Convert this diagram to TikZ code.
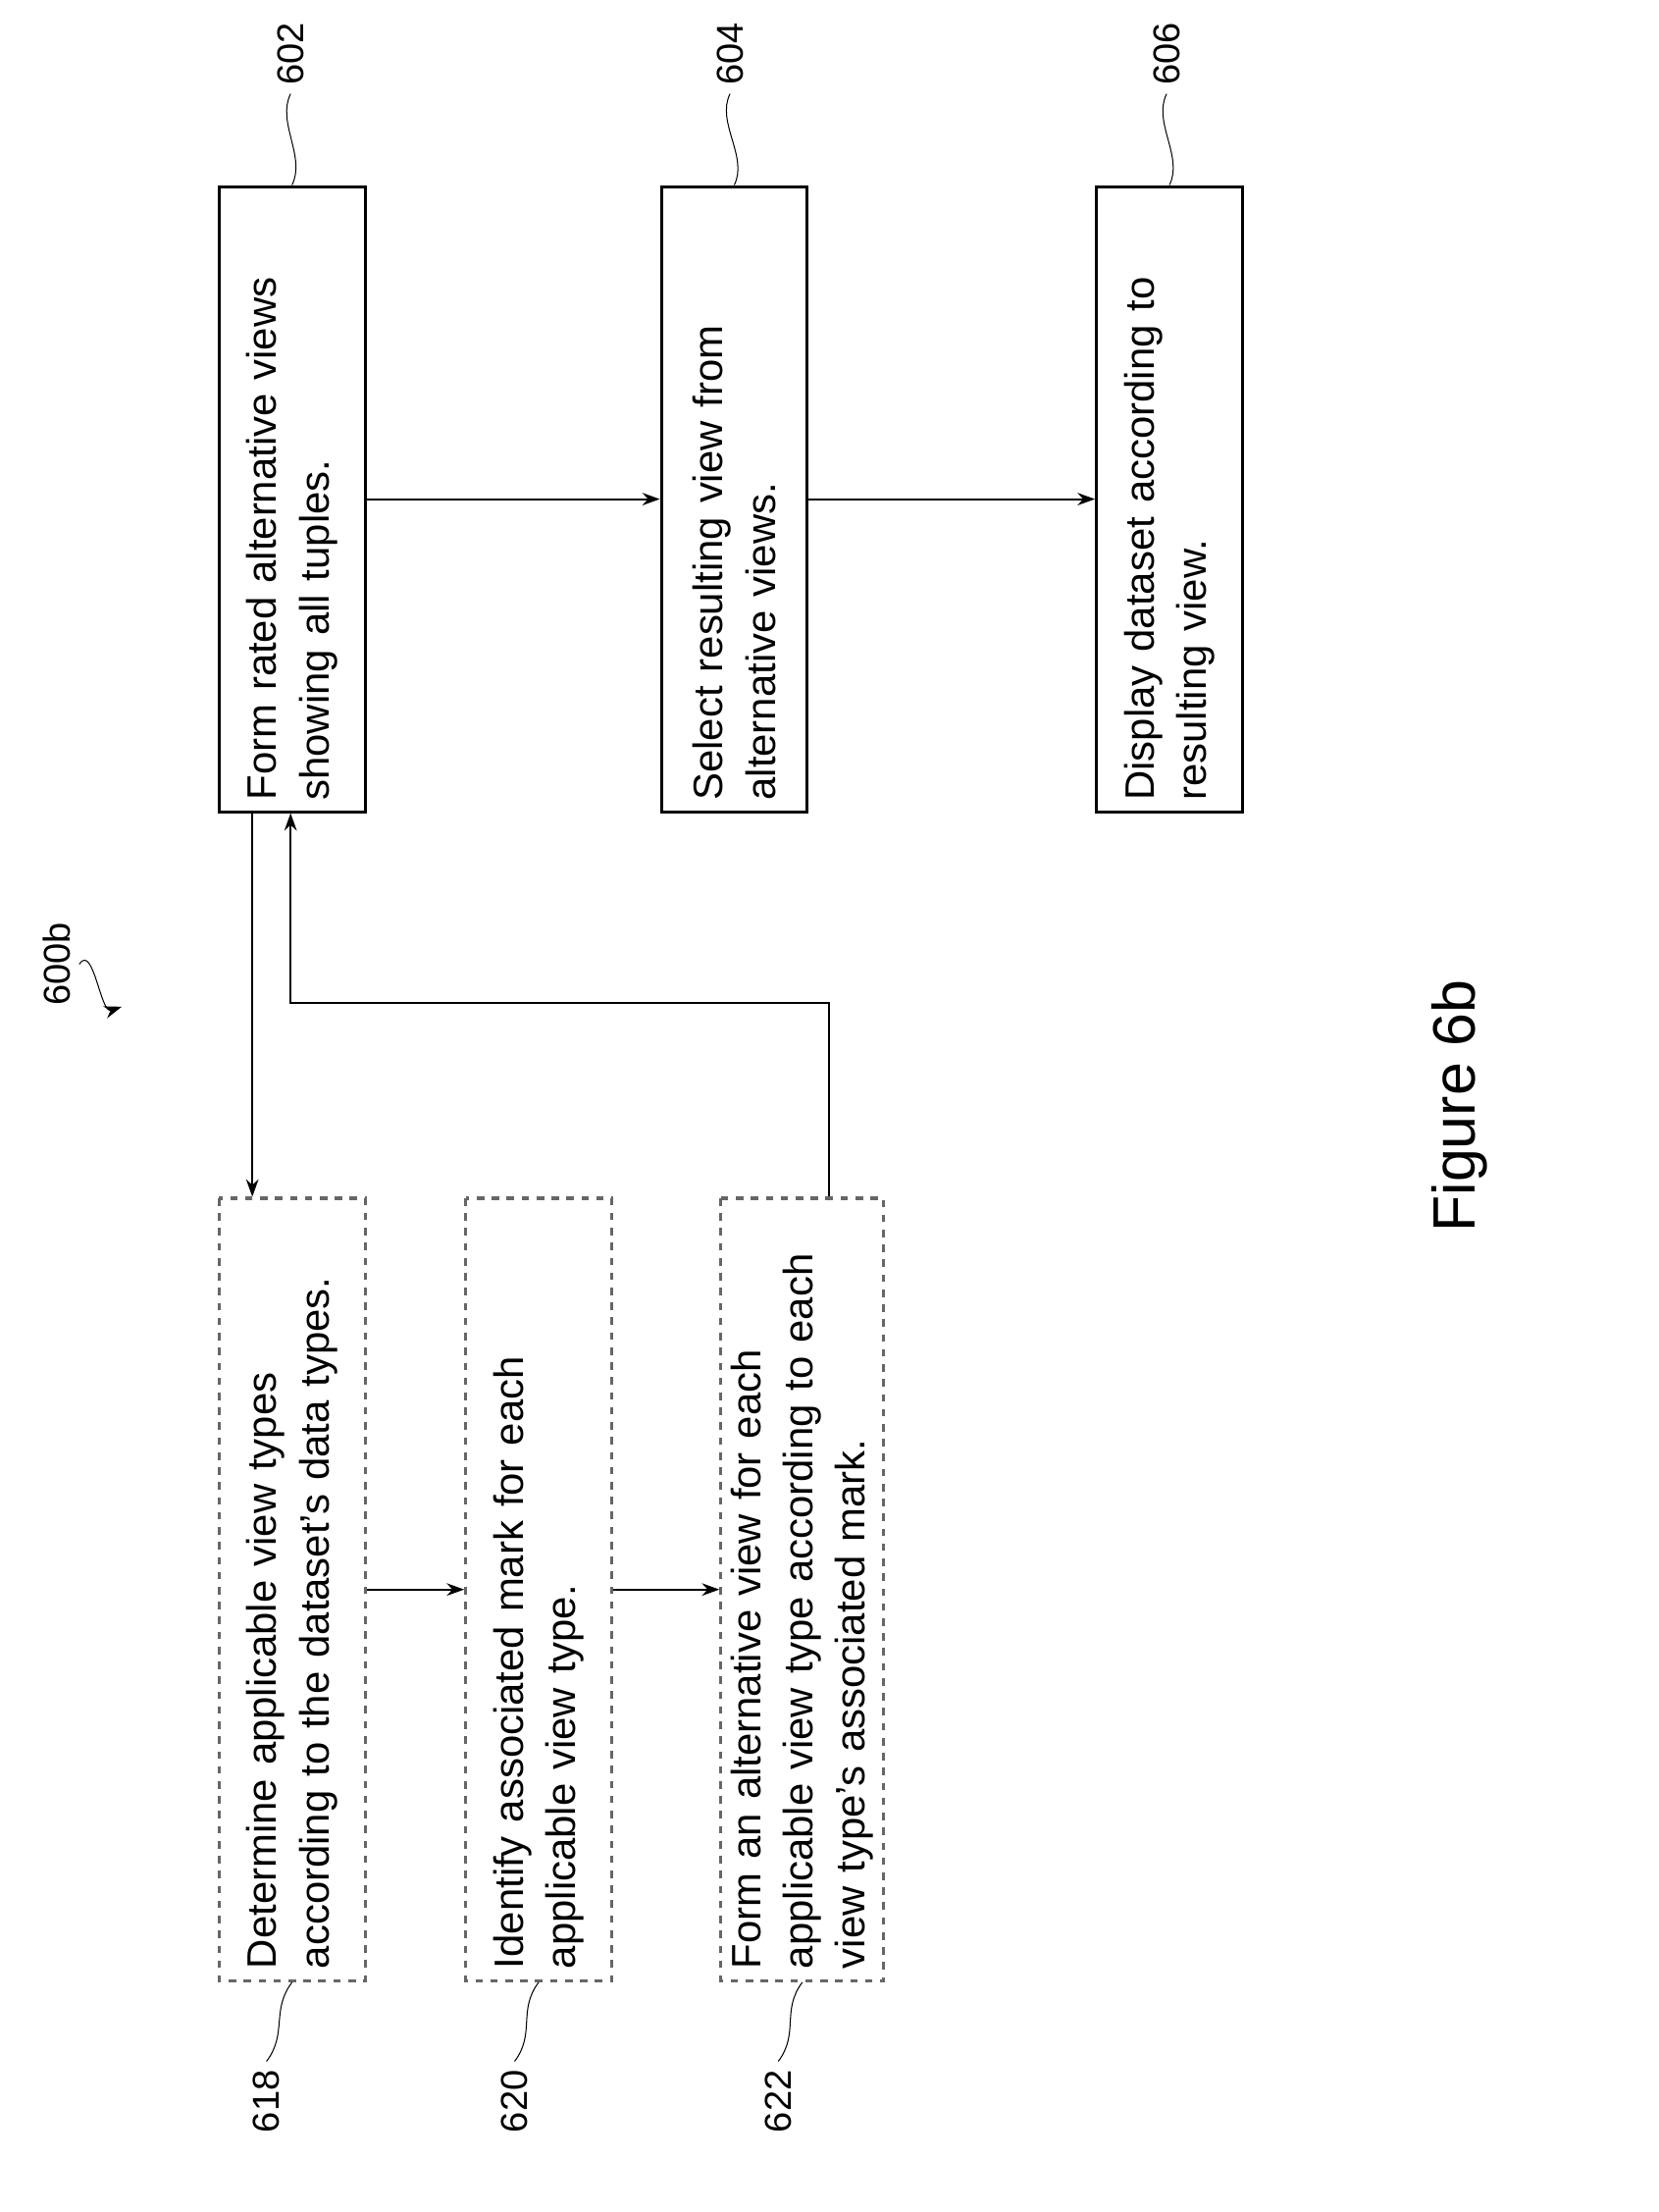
\documentclass[tikz,border=0pt]{standalone}
\usepackage{fontspec}
\setmainfont{Liberation Sans}
\usetikzlibrary{positioning,arrows.meta}

\begin{document}
\begin{tikzpicture}[x=0.02cm,y=0.02cm,>={Stealth[length=7pt,width=5pt]},
        mainbox/.style={draw=black,line width=1.2pt,rotate=90,minimum width=8.82cm,minimum height=2.06cm,
            text width=8.5cm,align=left,font=\fontsize{16.5}{21}\selectfont,inner sep=4pt},
        subbox/.style={mainbox,dashed,draw=black!60,minimum width=11.04cm,text width=10.7cm},
        ref/.style={rotate=90,font=\fontsize{15}{18}\selectfont}]
        \useasboundingbox (0,0) rectangle (1170,1560);

        % main steps
        \node[mainbox] (602) at (206,1208) {Form rated alternative views\\showing all tuples.};
        \node[mainbox] (604) at (518,1208) {Select resulting view from\\alternative views.};
        \node[mainbox] (606) at (825,1208) {Display dataset according to\\resulting view.};

        % sub steps
        \node[subbox] (618) at (206,439) {Determine applicable view types\\according to the dataset's data types.};
        \node[subbox] (620) at (380,439) {Identify associated mark for each\\applicable view type.};
        \node[subbox] (622) at (566,439) {Form an alternative view for each\\applicable view type according to each\\view type's associated mark.};

        % reference labels
        \node[ref] (l602) at (205,1522) {602};
        \node[ref] (l604) at (515,1522) {604};
        \node[ref] (l606) at (823,1522) {606};
        \node[ref] (l618) at (188,78) {618};
        \node[ref] (l620) at (363,78) {620};
        \node[ref] (l622) at (549,78) {622};
        \node[ref] (l600) at (40,880) {600b};
        \node[rotate=90,font=\fontsize{24}{28}\selectfont] (fig) at (1030,780) {Figure 6b};

        \draw (l602.west) .. controls +(-10,-20) and +(10,20) .. (602.east);
        \draw (l604.west) .. controls +(-10,-20) and +(10,20) .. (604.east);
        \draw (l606.west) .. controls +(-10,-20) and +(10,20) .. (606.east);
        \draw (l618.east) .. controls +(15,20) and +(-15,-20) .. (618.west);
        \draw (l620.east) .. controls +(15,20) and +(-15,-20) .. (620.west);
        \draw (l622.east) .. controls +(15,20) and +(-15,-20) .. (622.west);
        \draw[->] (l600.south) .. controls +(10,15) and +(-15,-5) .. ++(30,-30);

        % connectors
        \path[->,line width=0.8pt]
                  (602) edge (604)
                  (604) edge (606)
                  (618) edge (620)
                  (620) edge (622);
        \draw[->,line width=0.8pt] ([xshift=-0.56cm]602.west) -- ([xshift=-0.56cm]618.east);
        \draw[->,line width=0.8pt] ([xshift=0.38cm]622.east) -- ++(0,137) -| ([xshift=-0.02cm]602.west);
\end{tikzpicture}
\end{document}
